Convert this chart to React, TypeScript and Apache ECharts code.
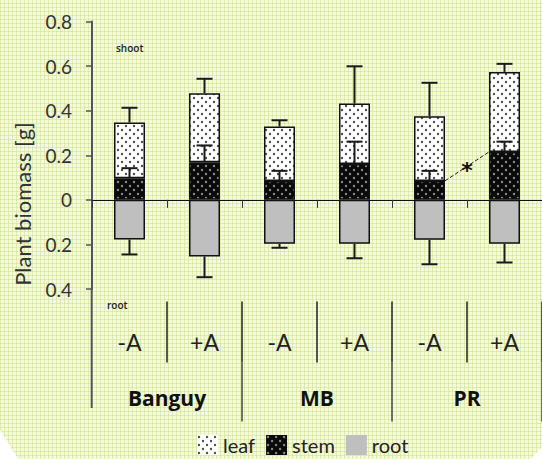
import React, { useEffect, useRef } from "react";
import * as echarts from "echarts";

const categories = ["-A", "+A", "-A", "+A", "-A", "+A"];
const groups = ["Banguy", "MB", "PR"];
const stem = [0.097, 0.169, 0.085, 0.161, 0.085, 0.215];
const leaf = [0.25, 0.309, 0.244, 0.271, 0.29, 0.359];
const root = [-0.178, -0.254, -0.197, -0.197, -0.179, -0.197];
const shootErr = [0.066, 0.065, 0.028, 0.167, 0.15, 0.036];
const stemErr = [0.045, 0.075, 0.045, 0.1, 0.045, 0.046];
const rootErr = [0.067, 0.093, 0.018, 0.065, 0.11, 0.084];
const yTicks = ["0.8", "0.6", "0.4", "0.2", "0", "0.2", "0.4"];
const sigPair = [4, 5];

const FONT = "Lato, 'Open Sans', sans-serif";
const BOLD = "'Open Sans', 'Noto Sans', sans-serif";

function makePattern(bg: string, dot: string) {
  const c = document.createElement("canvas");
  c.width = 8;
  c.height = 8;
  const ctx = c.getContext("2d")!;
  ctx.fillStyle = bg;
  ctx.fillRect(0, 0, 8, 8);
  ctx.fillStyle = dot;
  ctx.beginPath();
  ctx.arc(2, 2, 1.2, 0, Math.PI * 2);
  ctx.fill();
  ctx.beginPath();
  ctx.arc(6, 6, 1.2, 0, Math.PI * 2);
  ctx.fill();
  return { image: c.toDataURL(), repeat: "repeat", imageWidth: 8, imageHeight: 8 } as any;
}

export default function App() {
  const ref = useRef<HTMLDivElement>(null);
  useEffect(() => {
    if (!ref.current) return;
    const chart = echarts.init(ref.current, undefined, { renderer: "svg" });
    const leafPat = makePattern("#ffffff", "#505050");
    const stemPat = makePattern("#0a0a0a", "#8a8a8a");

    const errData: number[][] = [];
    categories.forEach((_, i) => {
      const tot = stem[i] + leaf[i];
      errData.push([i, tot, tot + shootErr[i]]);
      errData.push([i, stem[i], stem[i] + stemErr[i]]);
      errData.push([i, root[i], root[i] - rootErr[i]]);
    });

    const barW = 31;
    const tickInterval = (idx: number) => idx !== 0;

    chart.setOption({
      animation: false,
      backgroundColor: "transparent",
      grid: { left: 92, top: 21.5, width: 455, height: 267.5, containLabel: false },
      legend: {
        data: ["leaf", "stem", "root"],
        left: 197,
        top: 435,
        padding: 0,
        itemWidth: 21,
        itemHeight: 20,
        itemGap: 11,
        icon: "rect",
        itemStyle: { borderWidth: 0 },
        textStyle: { fontSize: 20, color: "#222", fontFamily: FONT },
      },
      xAxis: [
        {
          type: "category",
          data: categories,
          boundaryGap: true,
          axisLine: { onZero: true, lineStyle: { color: "#111", width: 1 } },
          axisTick: { show: true, length: 8, lineStyle: { color: "#333", width: 1 }, interval: 0 },
          axisLabel: { show: false },
          splitLine: { show: false },
          z: 1,
        },
        {
          type: "category",
          data: categories,
          position: "bottom",
          offset: 12.5,
          boundaryGap: true,
          axisLine: { show: false, onZero: false },
          axisTick: { show: true, length: 61, interval: tickInterval, lineStyle: { color: "#222", width: 1.5 } },
          axisLabel: { show: true, margin: 29, fontSize: 23, color: "#222", fontFamily: FONT, interval: 0 },
          splitLine: { show: false },
        },
        {
          type: "category",
          data: groups,
          position: "bottom",
          offset: 73.5,
          boundaryGap: true,
          axisLine: { show: false, onZero: false },
          axisTick: { show: true, length: 59, interval: tickInterval, lineStyle: { color: "#444", width: 1.5 } },
          axisLabel: { show: true, margin: 25, fontSize: 21, fontWeight: "bold", color: "#111", fontFamily: BOLD, interval: 0 },
          splitLine: { show: false },
        },
      ],
      yAxis: {
        type: "value",
        min: -0.4,
        max: 0.8,
        interval: 0.2,
        axisLine: { show: true, lineStyle: { color: "#555", width: 2 } },
        axisTick: { show: true, length: 6, lineStyle: { color: "#555", width: 1.5 } },
        axisLabel: {
          margin: 20,
          fontSize: 19,
          color: "#333",
          fontFamily: FONT,
          formatter: (v: number) => yTicks[Math.round((0.8 - v) / 0.2)],
        },
        splitLine: { show: false },
      },
      series: [
        {
          name: "stem",
          type: "bar",
          stack: "a",
          barWidth: barW,
          data: stem,
          itemStyle: { color: stemPat, borderColor: "#111", borderWidth: 1.5 },
          z: 2,
        },
        {
          name: "leaf",
          type: "bar",
          stack: "a",
          barWidth: barW,
          data: leaf,
          itemStyle: { color: leafPat, borderColor: "#111", borderWidth: 1.5 },
          z: 2,
        },
        {
          name: "root",
          type: "bar",
          stack: "a",
          barWidth: barW,
          data: root,
          itemStyle: { color: "#bfbfbf", borderColor: "#111", borderWidth: 1.5 },
          z: 2,
        },
        {
          type: "custom",
          name: "err",
          data: errData,
          z: 5,
          silent: true,
          renderItem: (params: any, api: any) => {
            const p1 = api.coord([api.value(0), api.value(1)]);
            const p2 = api.coord([api.value(0), api.value(2)]);
            const hw = 8;
            return {
              type: "group",
              children: [
                { type: "line", shape: { x1: p1[0], y1: p1[1], x2: p2[0], y2: p2[1] }, style: { stroke: "#1a1a1a", lineWidth: 2 } },
                { type: "line", shape: { x1: p2[0] - hw, y1: p2[1], x2: p2[0] + hw, y2: p2[1] }, style: { stroke: "#1a1a1a", lineWidth: 2 } },
              ],
            };
          },
        },
        {
          type: "custom",
          name: "sig",
          data: [[sigPair[0], stem[sigPair[0]], sigPair[1], stem[sigPair[1]]]],
          z: 5,
          silent: true,
          renderItem: (params: any, api: any) => {
            const p1 = api.coord([api.value(0), api.value(1)]);
            const p2 = api.coord([api.value(2), api.value(3)]);
            const hw = barW / 2;
            const x1 = p1[0] + hw;
            const x2 = p2[0] - hw;
            return {
              type: "group",
              children: [
                { type: "line", shape: { x1, y1: p1[1], x2, y2: p2[1] }, style: { stroke: "#222", lineWidth: 1, lineDash: [4, 2] } },
                {
                  type: "text",
                  x: (x1 + x2) / 2,
                  y: (p1[1] + p2[1]) / 2 + 4,
                  style: { text: "*", fontSize: 22, fontWeight: "bold", fill: "#111", align: "center", verticalAlign: "middle", fontFamily: "DejaVu Sans" },
                },
              ],
            };
          },
        },
      ],
      graphic: [
        { type: "line", shape: { x1: 91.7, y1: 289, x2: 91.7, y2: 408 }, style: { stroke: "#555", lineWidth: 2 } },
        {
          type: "text",
          x: 22,
          y: 204,
          rotation: Math.PI / 2,
          style: { text: "Plant biomass [g]", fontSize: 22, fill: "#333", fontFamily: FONT, align: "center", verticalAlign: "middle" },
        },
        { type: "text", x: 116, y: 48, style: { text: "shoot", fontSize: 10, fill: "#222", fontFamily: BOLD, fontWeight: 600, verticalAlign: "middle" } },
        { type: "text", x: 107, y: 305, style: { text: "root", fontSize: 10, fill: "#222", fontFamily: BOLD, fontWeight: 600, verticalAlign: "middle" } },
        { type: "polygon", shape: { points: [[0, 430], [0, 459], [18, 459]] }, style: { fill: "#ffffff" } },
        { type: "polygon", shape: { points: [[542, 447], [542, 459], [531, 459]] }, style: { fill: "#ffffff" } },
      ],
    });
    return () => chart.dispose();
  }, []);

  return (
    <div
      style={{
        position: "fixed",
        left: 0,
        top: 0,
        width: 542,
        height: 459,
        backgroundColor: "#f5f9e2",
        backgroundImage:
          "linear-gradient(90deg, rgba(205,228,130,0.55) 1px, transparent 1px), linear-gradient(0deg, rgba(205,228,130,0.55) 1px, transparent 1px)",
        backgroundSize: "4px 4px",
      }}
    >
      <div ref={ref} style={{ width: 542, height: 459 }} />
    </div>
  );
}
